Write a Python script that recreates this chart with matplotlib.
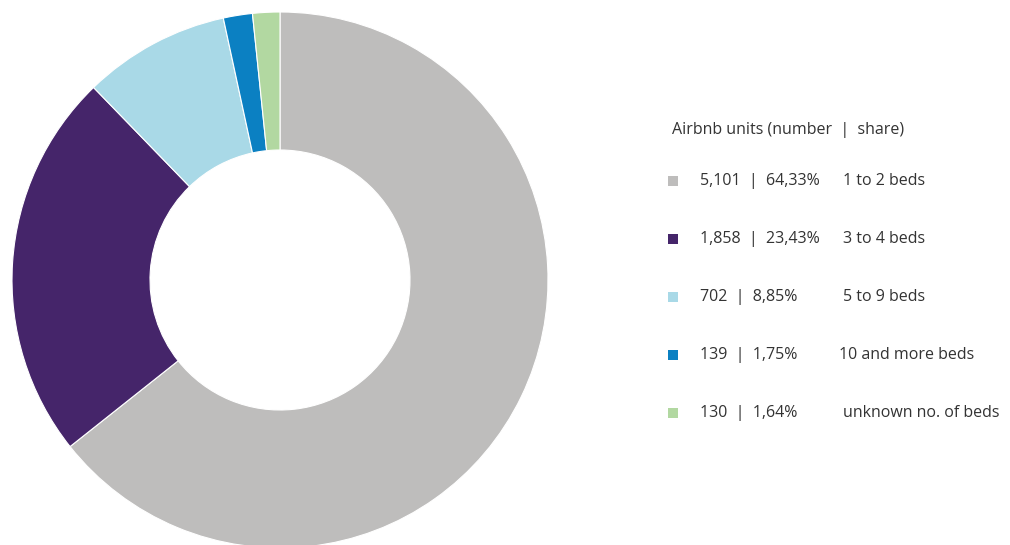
import matplotlib.pyplot as plt
from matplotlib.patches import Rectangle

plt.rcParams['font.family'] = ['Open Sans', 'DejaVu Sans']

categories = ['1 to 2 beds', '3 to 4 beds', '5 to 9 beds',
              '10 and more beds', 'unknown no. of beds']
units = [5101, 1858, 702, 139, 130]
shares = ['64,33%', '23,43%', '8,85%', '1,75%', '1,64%']
colors = ['#bebdbc', '#45256a', '#a9d9e7', '#0b80c2', '#b2d8a1']

W, H = 1010, 545
fig = plt.figure(figsize=(W / 100, H / 100), dpi=100)
ax = fig.add_axes([0, 0, 1, 1])
ax.set_xlim(0, W)
ax.set_ylim(0, H)
ax.set_aspect('equal')
ax.axis('off')

# donut, drawn clockwise from 12 o'clock
ax.pie(units, colors=colors, startangle=90, counterclock=False,
       center=(280, H - 280), radius=268,
       wedgeprops=dict(width=138, edgecolor='white', linewidth=0.8))
ax.set_xlim(0, W)
ax.set_ylim(0, H)

txt = '#333333'
fs = 11.5
ax.text(672, H - 130, 'Airbnb units (number  |  share)', fontsize=fs,
        color=txt, va='center', ha='left')

label_x = [843, 843, 843, 839, 843]
for i, (n, s, c) in enumerate(zip(units, shares, categories)):
    y = H - (181 + 58 * i)
    ax.add_patch(Rectangle((668, y - 5), 10, 10, color=colors[i], lw=0))
    ax.text(700, y, f'{n:,}  |  {s}', fontsize=fs, color=txt,
            va='center', ha='left')
    ax.text(label_x[i], y, c, fontsize=fs, color=txt, va='center', ha='left')

fig.savefig('out.png', dpi=100)
